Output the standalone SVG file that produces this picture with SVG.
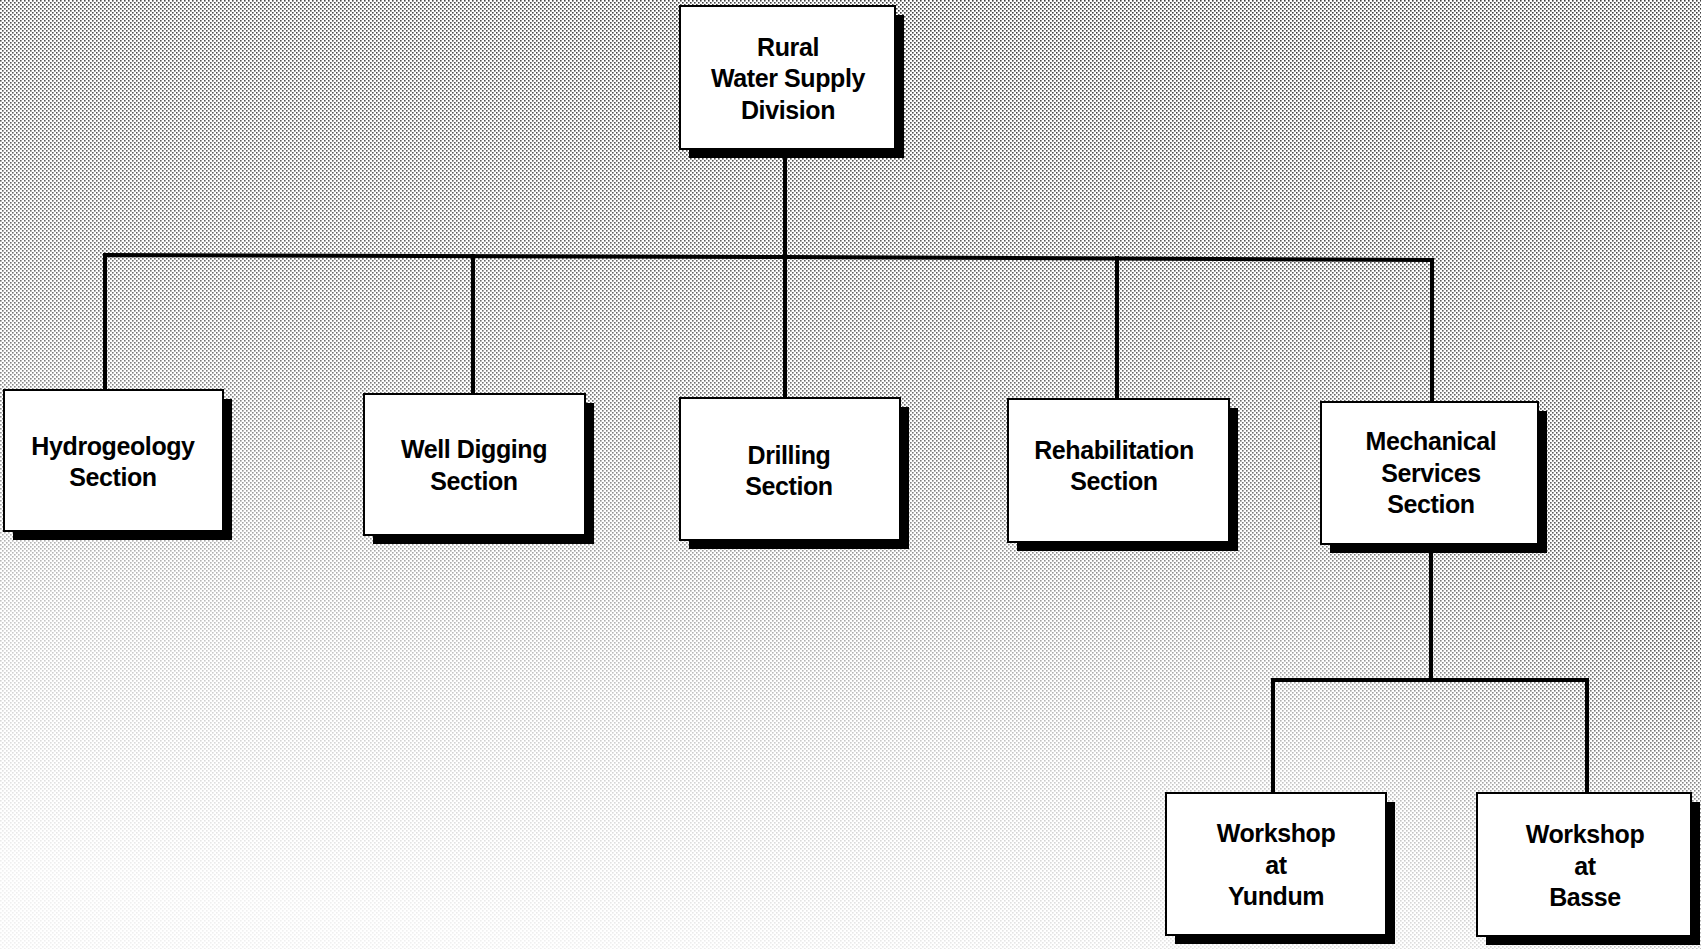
<svg xmlns="http://www.w3.org/2000/svg" width="1701" height="949" viewBox="0 0 1701 949">
<style>
.box{fill:#ffffff;stroke:#000000;stroke-width:2}
.sh{fill:#000000}
.lbl{font-family:"Liberation Sans",Arial,sans-serif;font-weight:bold;font-size:25px;fill:#000000;text-anchor:middle;letter-spacing:-0.4px}
.con{stroke:#000000;stroke-width:4;fill:none;stroke-linecap:square}
</style>
<defs>
<pattern id="dots" width="4" height="4" patternUnits="userSpaceOnUse">
<rect x="0" y="0" width="1.6" height="1.6" fill="#000"/>
<rect x="2" y="2" width="1.6" height="1.6" fill="#000"/>
</pattern>
<linearGradient id="fade" x1="0.6" y1="0" x2="0.35" y2="1">
<stop offset="0" stop-color="#fff" stop-opacity="0.75"/>
<stop offset="0.45" stop-color="#fff" stop-opacity="0.55"/>
<stop offset="0.75" stop-color="#fff" stop-opacity="0.22"/>
<stop offset="1" stop-color="#fff" stop-opacity="0.06"/>
</linearGradient>
<radialGradient id="br" cx="1701" cy="650" r="380" gradientUnits="userSpaceOnUse">
<stop offset="0" stop-color="#fff" stop-opacity="0.4"/>
<stop offset="1" stop-color="#fff" stop-opacity="0"/>
</radialGradient>
<mask id="m">
<rect x="0" y="0" width="1701" height="949" fill="url(#fade)"/>
<rect x="0" y="0" width="1701" height="949" fill="url(#br)"/>
</mask>
</defs>
<rect x="0" y="0" width="1701" height="949" fill="#ffffff"/>
<rect x="0" y="0" width="1701" height="949" fill="url(#dots)" mask="url(#m)"/>
<g id="connectors">
<line class="con" x1="785" y1="150" x2="785" y2="257"/>
<polyline class="con" points="105,390 105,255 785,257 1432,260 1432,402"/>
<line class="con" x1="473" y1="256" x2="473" y2="394"/>
<line class="con" x1="785" y1="257" x2="785" y2="398"/>
<line class="con" x1="1117" y1="258" x2="1117" y2="399"/>
<polyline class="con" points="1431,544 1431,680"/>
<polyline class="con" points="1273,793 1273,680 1587,680 1587,793"/>
</g>
<g id="root">
<rect class="sh" x="689" y="15" width="215" height="143"/>
<rect class="box" x="680" y="6" width="215" height="143"/>
<text class="lbl" x="788" y="56">Rural</text>
<text class="lbl" x="788" y="87">Water Supply</text>
<text class="lbl" x="788" y="119">Division</text>
</g>
<g id="hydro">
<rect class="sh" x="13" y="399" width="219" height="141"/>
<rect class="box" x="4" y="390" width="219" height="141"/>
<text class="lbl" x="113" y="455">Hydrogeology</text>
<text class="lbl" x="113" y="486">Section</text>
</g>
<g id="well">
<rect class="sh" x="373" y="403" width="221" height="141"/>
<rect class="box" x="364" y="394" width="221" height="141"/>
<text class="lbl" x="474" y="458">Well Digging</text>
<text class="lbl" x="474" y="490">Section</text>
</g>
<g id="drilling">
<rect class="sh" x="689" y="407" width="220" height="142"/>
<rect class="box" x="680" y="398" width="220" height="142"/>
<text class="lbl" x="789" y="464">Drilling</text>
<text class="lbl" x="789" y="495">Section</text>
</g>
<g id="rehab">
<rect class="sh" x="1017" y="408" width="221" height="143"/>
<rect class="box" x="1008" y="399" width="221" height="143"/>
<text class="lbl" x="1114" y="459">Rehabilitation</text>
<text class="lbl" x="1114" y="490">Section</text>
</g>
<g id="mech">
<rect class="sh" x="1330" y="411" width="217" height="142"/>
<rect class="box" x="1321" y="402" width="217" height="142"/>
<text class="lbl" x="1431" y="450">Mechanical</text>
<text class="lbl" x="1431" y="482">Services</text>
<text class="lbl" x="1431" y="513">Section</text>
</g>
<g id="yundum">
<rect class="sh" x="1175" y="802" width="220" height="142"/>
<rect class="box" x="1166" y="793" width="220" height="142"/>
<text class="lbl" x="1276" y="842">Workshop</text>
<text class="lbl" x="1276" y="874">at</text>
<text class="lbl" x="1276" y="905">Yundum</text>
</g>
<g id="basse">
<rect class="sh" x="1486" y="802" width="214" height="143"/>
<rect class="box" x="1477" y="793" width="214" height="143"/>
<text class="lbl" x="1585" y="843">Workshop</text>
<text class="lbl" x="1585" y="875">at</text>
<text class="lbl" x="1585" y="906">Basse</text>
</g>
</svg>
